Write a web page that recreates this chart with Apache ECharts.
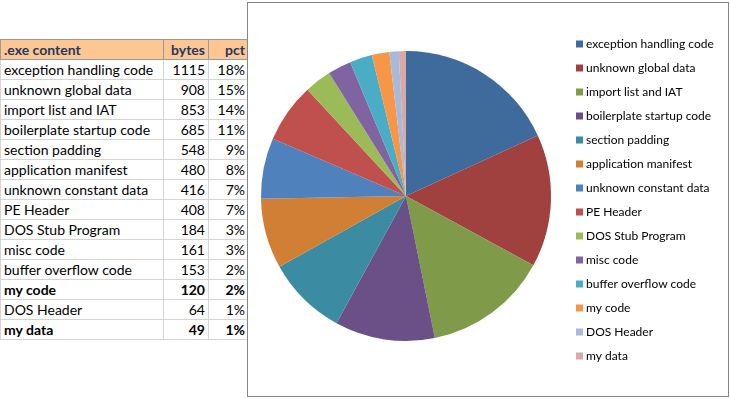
<!DOCTYPE html>
<html>
<head>
<meta charset="utf-8">
<script src="https://cdn.jsdelivr.net/npm/echarts@6/dist/echarts.min.js"></script>
<style>
  html, body { margin: 0; padding: 0; background: #fff; }
  body { width: 730px; height: 399px; position: relative; overflow: hidden; font-family: Lato, "Noto Sans", sans-serif; }
  #sheet { position: absolute; left: 0; top: 39px; border-collapse: collapse; font-size: 14px; color: #000; }
  #sheet td, #sheet th { height: 19px; padding: 0 3px; border: 1px solid #d4d4d4; white-space: nowrap; line-height: 19px; }
  #sheet th { background: #fcc793; color: #1f3864; font-weight: bold; border: 1px solid #9a9a9a; }
  #sheet .name { width: 156px; text-align: left; }
  #sheet .num { width: 38px; text-align: right; }
  #sheet .pct { width: 33px; text-align: right; }
  #sheet tr.bold td { font-weight: bold; }
  #chart { position: absolute; left: 247px; top: 2px; width: 480px; height: 393px; border: 1px solid #868686; background: #fff; }
</style>
</head>
<body>
<table id="sheet"></table>
<div id="chart"></div>
<script>
// table / pie data
var categories = ['exception handling code', 'unknown global data', 'import list and IAT', 'boilerplate startup code',
    'section padding', 'application manifest', 'unknown constant data', 'PE Header', 'DOS Stub Program',
    'misc code', 'buffer overflow code', 'my code', 'DOS Header', 'my data'];
var bytes = [1115, 908, 853, 685, 548, 480, 416, 408, 184, 161, 153, 120, 64, 49];
var pctLabels = ['18%', '15%', '14%', '11%', '9%', '8%', '7%', '7%', '3%', '3%', '2%', '2%', '1%', '1%'];
var boldRows = ['my code', 'my data'];
var sliceColors = ['#3f6a9c', '#a0413f', '#7f9a49', '#6a5087', '#3b8ca3', '#d07f35', '#4f81bd',
    '#c0504d', '#9bbb59', '#8064a2', '#4bacc6', '#f79646', '#a9b9d8', '#d9a9a8'];

function buildTable() {
    var table = document.getElementById('sheet');
    var html = '<tr><th class="name">.exe content</th><th class="num">bytes</th><th class="pct">pct</th></tr>';
    categories.forEach(function (name, i) {
        var cls = boldRows.indexOf(name) >= 0 ? ' class="bold"' : '';
        html += '<tr' + cls + '><td class="name">' + name + '</td><td class="num">' + bytes[i] +
            '</td><td class="pct">' + pctLabels[i] + '</td></tr>';
    });
    table.innerHTML = html;
}

buildTable();

var myChart = echarts.init(document.getElementById('chart'));

myChart.setOption({
    animation: false,
    color: sliceColors,
    legend: {
        orient: 'vertical',
        left: 323,
        top: 29,
        itemWidth: 7,
        itemHeight: 7,
        itemGap: 10,
        icon: 'rect',
        textStyle: { fontFamily: 'Lato', fontSize: 12, color: '#000', lineHeight: 14, padding: [0, 0, 0, -2] },
        data: categories
    },
    series: [{
        type: 'pie',
        center: [158, 193],
        radius: 145,
        startAngle: 90,
        clockwise: true,
        label: { show: false },
        labelLine: { show: false },
        itemStyle: { borderWidth: 0 },
        emphasis: { disabled: true },
        data: categories.map(function (name, i) {
            return { name: name, value: bytes[i] };
        })
    }]
});
</script>
</body>
</html>
